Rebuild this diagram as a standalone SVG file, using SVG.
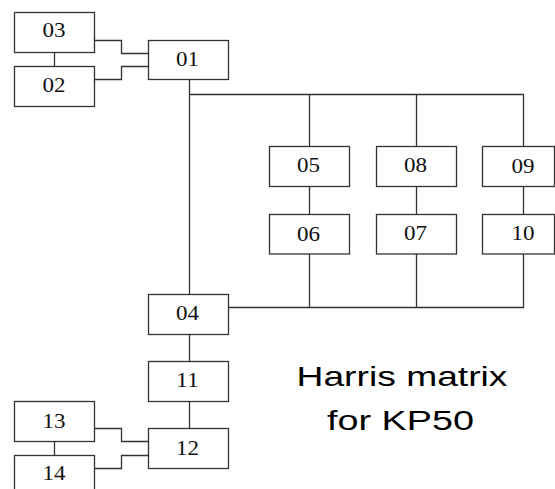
<svg xmlns="http://www.w3.org/2000/svg" width="555" height="489" viewBox="0 0 555 489">
<style>
.box rect{fill:#fff;stroke:#333;stroke-width:1.3}
.box text{font-family:"Liberation Serif","Times New Roman",serif;font-size:21px;fill:#111;text-anchor:middle}
#connectors path{fill:none;stroke:#333;stroke-width:1.3}
.title{font-family:"Liberation Sans",Arial,sans-serif;font-size:27.5px;fill:#000;text-anchor:middle}
</style>
<rect width="555" height="489" fill="#fff"/>
<g id="connectors">
<path d="M54.5 52.5V66.5"/>
<path d="M94.5 40.5H121.5V53.5H148.5"/>
<path d="M94.5 79.5H121.5V66.5H148.5"/>
<path d="M189.5 79.5V294.5"/>
<path d="M189.5 94.5H523.5V146.5"/>
<path d="M309.5 94.5V146.5"/>
<path d="M416.5 94.5V146.5"/>
<path d="M309.5 186.5V214.5"/>
<path d="M416.5 186.5V214.5"/>
<path d="M523.5 186.5V214.5"/>
<path d="M309.5 254V307.5"/>
<path d="M416.5 254V307.5"/>
<path d="M523.5 254V307.5H228.5"/>
<path d="M189.5 334.5V361.5"/>
<path d="M189.5 401.5V428.5"/>
<path d="M54.5 441.5V455.5"/>
<path d="M94.5 428.5H121.5V441.5H148.5"/>
<path d="M94.5 468.5H121.5V455.5H148.5"/>
</g>
<g id="n03" class="box"><rect x="14.5" y="12.5" width="80" height="40"/><text x="54" y="37" textLength="23" lengthAdjust="spacingAndGlyphs">03</text></g>
<g id="n02" class="box"><rect x="14.5" y="66.5" width="80" height="40"/><text x="54" y="92" textLength="23" lengthAdjust="spacingAndGlyphs">02</text></g>
<g id="n01" class="box"><rect x="148.5" y="40.5" width="80" height="39"/><text x="187.5" y="66" textLength="23" lengthAdjust="spacingAndGlyphs">01</text></g>
<g id="n05" class="box"><rect x="269.5" y="146.5" width="80" height="40"/><text x="308.5" y="172" textLength="23" lengthAdjust="spacingAndGlyphs">05</text></g>
<g id="n08" class="box"><rect x="376.5" y="146.5" width="80" height="40"/><text x="415.5" y="172" textLength="23" lengthAdjust="spacingAndGlyphs">08</text></g>
<g id="n09" class="box"><rect x="482.5" y="146.5" width="72" height="40"/><text x="523" y="173" textLength="23" lengthAdjust="spacingAndGlyphs">09</text></g>
<g id="n06" class="box"><rect x="269.5" y="214.5" width="80" height="39.5"/><text x="308.5" y="241" textLength="23" lengthAdjust="spacingAndGlyphs">06</text></g>
<g id="n07" class="box"><rect x="376.5" y="214.5" width="80" height="39.5"/><text x="415.5" y="239.5" textLength="23" lengthAdjust="spacingAndGlyphs">07</text></g>
<g id="n10" class="box"><rect x="482.5" y="214.5" width="72" height="39.5"/><text x="523" y="240" textLength="23" lengthAdjust="spacingAndGlyphs">10</text></g>
<g id="n04" class="box"><rect x="148.5" y="294.5" width="80" height="40"/><text x="187.5" y="320" textLength="23" lengthAdjust="spacingAndGlyphs">04</text></g>
<g id="n11" class="box"><rect x="148.5" y="361.5" width="80" height="40"/><text x="187.5" y="387" textLength="23" lengthAdjust="spacingAndGlyphs">11</text></g>
<g id="n12" class="box"><rect x="148.5" y="428.5" width="80" height="40"/><text x="187.5" y="455" textLength="23" lengthAdjust="spacingAndGlyphs">12</text></g>
<g id="n13" class="box"><rect x="14.5" y="401.5" width="80" height="40"/><text x="54" y="428" textLength="23" lengthAdjust="spacingAndGlyphs">13</text></g>
<g id="n14" class="box"><rect x="14.5" y="455.5" width="80" height="40"/><text x="54" y="480" textLength="23" lengthAdjust="spacingAndGlyphs">14</text></g>
<g id="title">
<text class="title" x="402" y="386" textLength="211" lengthAdjust="spacingAndGlyphs">Harris matrix</text>
<text class="title" x="400.5" y="430" textLength="147" lengthAdjust="spacingAndGlyphs">for KP50</text>
</g>
</svg>
